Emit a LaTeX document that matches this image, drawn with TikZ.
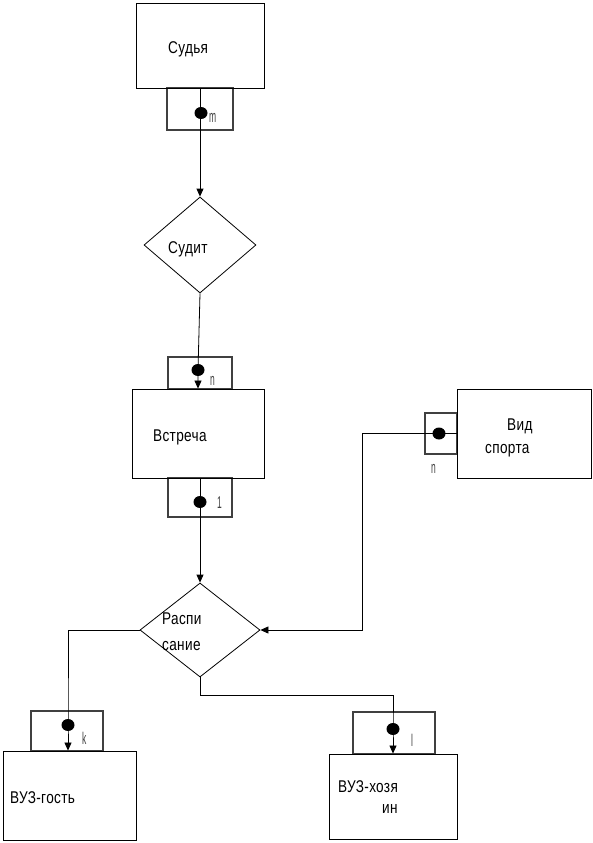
\documentclass[tikz,border=0pt]{standalone}
\usepackage{fontspec}
\setmainfont{Liberation Sans}[FakeStretch=0.8,LetterSpace=2]
\newfontfamily\narrowfont{Liberation Sans}[FakeStretch=0.5]
\usetikzlibrary{shapes.geometric,arrows.meta}
\begin{document}
\begin{tikzpicture}[x=1pt,y=-1pt,
  ent/.style={draw,line width=0.9pt,inner sep=0pt,minimum width=#1},
  card/.style={draw=black!75,line width=2pt,inner sep=0pt,minimum width=#1},
  rel/.style={draw,diamond,line width=0.8pt,inner sep=0pt,minimum width=#1},
  dot/.style={ellipse,fill=black,inner sep=0pt,minimum width=13pt,minimum height=12pt},
  txt/.style={anchor=base west,inner sep=0pt,font=\fontsize{17}{20}\selectfont},
  card label/.style={anchor=base west,inner sep=0pt,text=black!75,font=\narrowfont\fontsize{17}{20}\selectfont},
  arr/.style={-{Triangle[length=8pt,width=7pt]},line width=0.8pt},
  conn/.style={line width=0.8pt}]
\useasboundingbox (0,0) rectangle (593,843);
% cardinality boxes
\node[card=66pt,minimum height=42pt] (cm) at (200,109) {};
\node[card=64pt,minimum height=32pt] (cn) at (200,373) {};
\node[card=64pt,minimum height=39pt] (c1) at (200,497.5) {};
\node[card=72pt,minimum height=40pt] (ck) at (67,731) {};
\node[card=82pt,minimum height=42pt] (cl) at (394,733) {};
\node[card=32pt,minimum height=41pt] (cv) at (441,433.5) {};
% entities
\node[ent=128pt,minimum height=85pt] (sudja) at (200,45.5) {};
\node[ent=132pt,minimum height=89pt] (vstr) at (198,433.5) {};
\node[ent=133pt,minimum height=89pt] (gost) at (69.5,795.5) {};
\node[ent=128pt,minimum height=85pt] (khoz) at (393,796.5) {};
\node[ent=134pt,minimum height=89pt] (vid) at (524,433.5) {};
% relationships
\node[rel=112pt,minimum height=96pt] (sudit) at (200,245) {};
\node[rel=120pt,minimum height=94pt] (rasp) at (200,630) {};
% dots
\node[dot] (dm) at (201,113) {};
\node[dot] (dn) at (198,370) {};
\node[dot] (d1) at (200,502) {};
\node[dot] (dk) at (68,725) {};
\node[dot] (dl) at (393,729) {};
\node[dot] (dv) at (439,433.5) {};
% texts
\node[txt] (tsudja) at (168,53) {Судья};
\node[txt] (tsudit) at (168,253) {Судит};
\node[txt] (tvstr) at (153,441) {Встреча};
\node[txt] (trasp1) at (162,624) {Распи};
\node[txt] (trasp2) at (162,650) {сание};
\node[txt] (tgost) at (10,803) {ВУЗ-гость};
\node[txt] (tkhoz1) at (338,792) {ВУЗ-хозя};
\node[txt] (tkhoz2) at (382,813) {ин};
\node[txt] (tvid1) at (507,430) {Вид};
\node[txt] (tvid2) at (485,453) {спорта};
% cardinality labels
\node[card label] (lm) at (209,122) {m};
\node[card label] (ln) at (210,385) {n};
\node[card label] (l1) at (217,508) {1};
\node[card label] (lk) at (82,744) {k};
\node[card label] (ll) at (411,746) {l};
\node[card label] (lv) at (431,473) {n};
% connectors
\draw[arr] (sudja.south) -- (sudit.north);
\draw[arr] (sudit.south) -- (dn.center) -- (vstr.north -| dn.center);
\draw[arr] (vstr.south -| d1.center) -- (rasp.north);
\draw[arr] (rasp.west) -| (dk.center) -- (gost.north -| dk.center);
\draw[arr] (rasp.south) -- ++(0,18) -| (dl.center) -- (khoz.north -| dl.center);
\draw[arr] (vid.west) -- (dv.center) -- ++(-77,0) |- (rasp.east);
\end{tikzpicture}
\end{document}
